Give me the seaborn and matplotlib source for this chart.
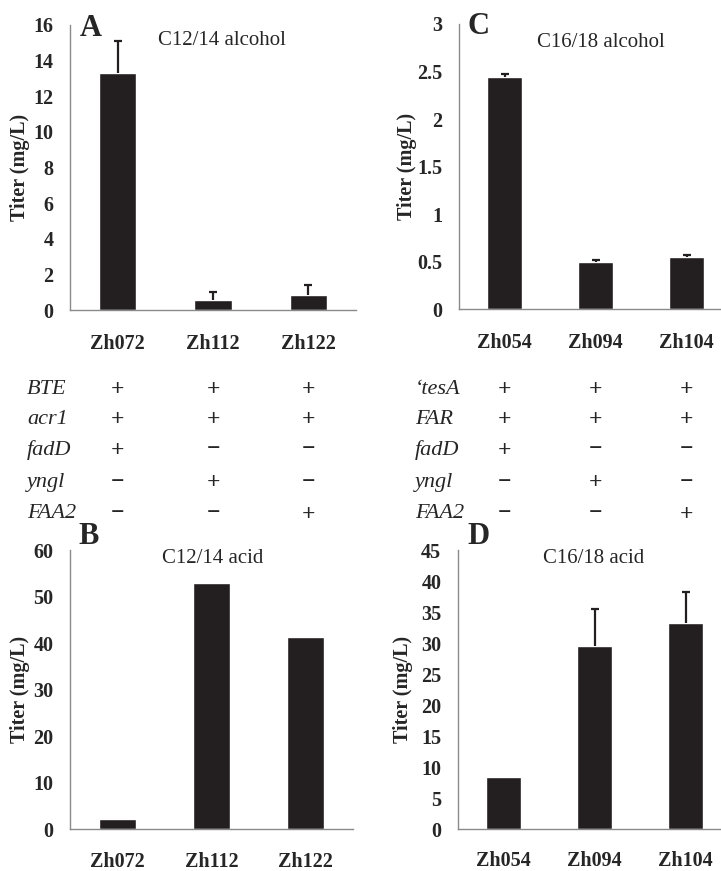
"""
Fatty alcohol / fatty acid titers for the engineered strains (panels A-D)
plus the gene table between the two rows of bar charts.
"""
import numpy as np
import pandas as pd
import matplotlib
matplotlib.use('Agg')
import matplotlib.pyplot as plt
import matplotlib.transforms as mtrans
from matplotlib.ticker import FuncFormatter
import seaborn as sns

# ── data ──
strains_left = ['Zh072', 'Zh112', 'Zh122']
strains_right = ['Zh054', 'Zh094', 'Zh104']

# A: C12/14 alcohol
alc_c12 = [13.3, 0.56, 0.83]
alc_c12_err = [1.8, 0.47, 0.6]
# B: C12/14 acid
acid_c12 = [2.15, 52.8, 41.2]
# C: C16/18 alcohol
alc_c16 = [2.446, 0.497, 0.552]
alc_c16_err = [0.03, 0.025, 0.018]
# D: C16/18 acid
acid_c16 = [8.35, 29.5, 33.2]
acid_c16_err = [np.nan, 6.0, 5.0]

genes_left = ['BTE', 'acr1', 'fadD', 'yngl', 'FAA2']
genes_right = ['\u2018tesA', 'FAR', 'fadD', 'yngl', 'FAA2']
# rows = genes, cols = strains
signs = [['+', '+', '+'],
         ['+', '+', '+'],
         ['+', '\u2212', '\u2212'],
         ['\u2212', '+', '\u2212'],
         ['\u2212', '\u2212', '+']]

BAR = '#231f20'
AXC = '#8a8a8a'
W, H = 721, 871

sns.set_style('white')
plt.rcParams['font.family'] = ['Liberation Serif', 'DejaVu Serif']

fig = plt.figure(figsize=(W / 100, H / 100), dpi=100)


def px_axes(x0, x1, ytop, ybot):
    return fig.add_axes([x0 / W, 1 - ybot / H, (x1 - x0) / W, (ybot - ytop) / H])


def panel(ax, strains, vals, errs, ymax, step, title, tpos, ylab_x, xpad):
    df = pd.DataFrame({'strain': strains, 'titer': vals})
    sns.barplot(data=df, x='strain', y='titer', order=strains, color=BAR,
                saturation=1, width=0.39, errorbar=None, ax=ax)
    if errs is not None:
        for bar, v, e in zip(ax.patches, vals, errs):
            if np.isnan(e):
                continue
            cx = bar.get_x() + bar.get_width() / 2
            _, caps, _ = ax.errorbar(cx, v, yerr=[[0], [e]], fmt='none',
                                     ecolor=BAR, elinewidth=1.6, capsize=2.8,
                                     capthick=1.6)
            caps[0].set_visible(False)  # only the upper whisker is drawn
    ax.set_xlim(-0.5, 2.5)
    ax.set_ylim(0, ymax)
    ax.set_yticks(np.arange(0, ymax + step / 2, step))
    ax.yaxis.set_major_formatter(FuncFormatter(lambda v, p: f'{v:g}'))
    ax.set_xticks([0.5, 1.5, 2.5], minor=True)
    for s in ('top', 'right'):
        ax.spines[s].set_visible(False)
    for s in ('left', 'bottom'):
        ax.spines[s].set_color(AXC)
        ax.spines[s].set_linewidth(1.0)
    ax.tick_params(axis='y', direction='out', length=5, width=1, color=AXC,
                   pad=7, labelsize=14.5)
    ax.tick_params(axis='x', which='major', length=0, pad=xpad, labelsize=14.5)
    ax.tick_params(axis='x', which='minor', direction='out', length=7,
                   width=1, color=AXC)
    for lbl in ax.get_xticklabels() + ax.get_yticklabels():
        lbl.set_fontweight('bold')
    ax.set_xlabel('')
    ax.set_ylabel('Titer (mg/L)', fontsize=14.5, fontweight='bold', va='center')
    ax.yaxis.set_label_coords(ylab_x, 0.5)
    ax.text(tpos[0], tpos[1], title, transform=ax.transAxes, ha='center',
            va='center', fontsize=15)
    ax.set_facecolor('none')


axA = px_axes(70, 356, 25, 310)
axC = px_axes(459, 732, 24, 309.5)
axB = px_axes(70, 353, 550, 829)
axD = px_axes(458, 731, 550, 829)

panel(axA, strains_left, alc_c12, alc_c12_err, 16, 2, 'C12/14 alcohol',
      (0.53, 0.945), -0.175, 17)
panel(axC, strains_right, alc_c16, alc_c16_err, 3, 0.5, 'C16/18 alcohol',
      (0.52, 0.935), -0.19, 17)
panel(axB, strains_left, acid_c12, None, 60, 10, 'C12/14 acid',
      (0.505, 0.97), -0.175, 16.5)
panel(axD, strains_right, acid_c16, acid_c16_err, 45, 5, 'C16/18 acid',
      (0.495, 0.97), -0.20, 15.5)

# panel letters
for x, y, s in [(80, 28, 'A'), (467, 27, 'C'), (78, 537, 'B'), (467, 537, 'D')]:
    fig.text(x / W, 1 - y / H, s, fontsize=22, fontweight='bold',
             ha='left', va='center')

# gene table
row_y = [389, 419, 450, 482, 514]
for ax, genes, gx in [(axA, genes_left, 27), (axC, genes_right, 415)]:
    tr = mtrans.blended_transform_factory(ax.transData, fig.transFigure)
    for r, (g, yy) in enumerate(zip(genes, row_y)):
        fig.text(gx / W, 1 - yy / H, g, fontsize=16, style='italic',
                 ha='left', va='center')
        for c in range(3):
            ax.text(c, 1 - yy / H, signs[r][c], transform=tr, fontsize=17,
                    fontweight='bold', ha='center', va='center')

fig.savefig('out.png', dpi=100)
